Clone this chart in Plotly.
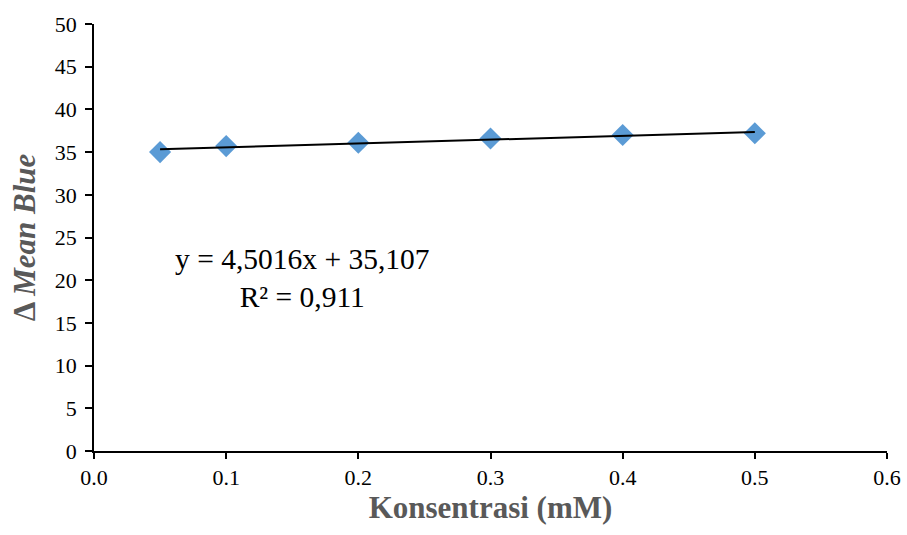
import plotly.graph_objects as go

konsentrasi = [0.05, 0.1, 0.2, 0.3, 0.4, 0.5]
mean_blue = [35.0, 35.7, 36.1, 36.6, 37.0, 37.2]
slope = 4.5016
intercept = 35.107
x_ticks = [0.0, 0.1, 0.2, 0.3, 0.4, 0.5, 0.6]
x_tick_labels = ["0.0", "0.1", "0.2", "0.3", "0.4", "0.5", "0.6"]
y_ticks = [0, 5, 10, 15, 20, 25, 30, 35, 40, 45, 50]

trend_x = [min(konsentrasi), max(konsentrasi)]
trend_y = [slope * v + intercept for v in trend_x]

SERIF = "Liberation Serif, Times New Roman, serif"

fig = go.Figure()
fig.add_trace(go.Scatter(
    x=konsentrasi, y=mean_blue, mode="markers",
    marker=dict(symbol="diamond", size=17, color="#5B9BD5"),
    showlegend=False))
fig.add_trace(go.Scatter(
    x=trend_x, y=trend_y, mode="lines",
    line=dict(color="black", width=2), showlegend=False))

fig.add_annotation(
    x=0.1577, y=20.3, xref="x", yref="y",
    text="y = 4,5016x + 35,107<br>R² = 0,911",
    showarrow=False, align="center",
    font=dict(family=SERIF, size=29.5, color="black"))

fig.update_layout(
    width=907, height=535,
    margin=dict(l=93.5, r=20, t=24, b=84),
    paper_bgcolor="white", plot_bgcolor="white",
    font=dict(family=SERIF, size=22, color="black"),
    xaxis=dict(
        range=[0, 0.6], tickvals=x_ticks, ticktext=x_tick_labels,
        showgrid=False, zeroline=False, showline=True, linecolor="black", linewidth=1.5,
        ticks="outside", ticklen=6, tickcolor="black", tickwidth=1.5,
        tickfont=dict(family=SERIF, size=22, color="black"),
        automargin=False,
        title=dict(text="<b>Konsentrasi (mM)</b>", font=dict(family=SERIF, size=31, color="#595959"), standoff=4)),
    yaxis=dict(
        range=[0, 50], tickvals=y_ticks,
        showgrid=False, zeroline=False, showline=True, linecolor="black", linewidth=1.5,
        ticks="outside", ticklen=7, tickcolor="black", tickwidth=1.5,
        tickfont=dict(family=SERIF, size=22, color="black"),
        ticklabelstandoff=4,
        automargin=False,
        title=dict(text="<b>Δ <i>Mean Blue</i></b>", font=dict(family=SERIF, size=31, color="#595959"), standoff=10)),
)

fig.write_html(
    "out.html",
    config={"displayModeBar": False},
    post_script="document.body.style.margin='0';document.body.style.overflow='hidden';")
